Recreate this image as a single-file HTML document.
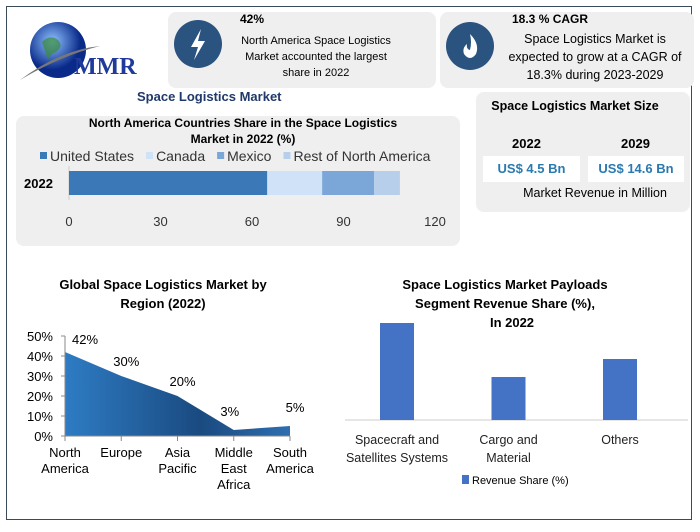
<!DOCTYPE html>
<html><head><meta charset="utf-8"><style>
body{margin:0;width:700px;height:532px;background:#fff;font-family:"Liberation Sans",sans-serif;position:relative;overflow:hidden}
.abs{position:absolute}
.card{position:absolute;background:#efefef;border-radius:8px}
.c{text-align:center}
</style></head><body>
<div class="abs" style="left:6px;top:6px;width:684px;height:512px;border:1.5px solid #3a4a5a"></div>

<div class="abs" style="left:18px;top:18px;width:130px;height:70px">
<svg width="130" height="70"><defs><radialGradient id="g" cx="40%" cy="35%"><stop offset="0" stop-color="#8fc2ff"/><stop offset="1" stop-color="#0a2a8a"/></radialGradient></defs>
<circle cx="40" cy="32" r="28" fill="url(#g)"/><path d="M24 24 q8-8 16-2 q6 6 -2 12 q-6 2 -8 8" fill="#3a8a3a" opacity=".7"/>
<path d="M2 62 q40-30 80-34 q-40 10 -80 34z" fill="#777"/>
<text x="56" y="56" font-family="Liberation Serif" font-weight="bold" font-size="24" fill="#1f3a9a">MMR</text></svg></div>

<div class="card" style="left:168px;top:12px;width:268px;height:76px"></div>
<div class="abs" style="left:174px;top:20px;width:48px;height:48px;border-radius:50%;background:#2b5380">
<svg width="48" height="48"><path d="M27 9 L17 27 H24 L20 40 L31 21 H24 Z" fill="#fff"/></svg></div>
<div class="abs" style="left:240px;top:12px;font-size:12px;font-weight:bold">42%</div>
<div class="abs c" style="left:232px;top:33px;width:168px;font-size:11px;line-height:16px">North America Space Logistics Market accounted the largest share in 2022</div>

<div class="card" style="left:440px;top:12px;width:254px;height:76px"></div>
<div class="abs" style="left:446px;top:22px;width:48px;height:48px;border-radius:50%;background:#2b5380">
<svg width="48" height="48"><path d="M24 12 q10 10 6 20 q-6 8 -12 0 q-2 -6 3 -10 q-1 5 3 6 q2 -8 0 -16z" fill="#fff"/></svg></div>
<div class="abs" style="left:512px;top:12px;font-size:12px;font-weight:bold">18.3 % CAGR</div>
<div class="abs c" style="left:500px;top:30px;width:190px;font-size:12.5px;line-height:18px">Space Logistics Market is expected to grow at a CAGR of 18.3% during 2023-2029</div>

<div class="abs" style="left:137px;top:89px;font-size:13px;font-weight:bold;color:#1f3a6a">Space Logistics Market</div>

<div class="card" style="left:476px;top:92px;width:214px;height:120px"></div>
<div class="abs c" style="left:476px;top:99px;width:198px;font-size:12.5px;font-weight:bold">Space Logistics Market Size</div>
<div class="abs" style="left:512px;top:136px;font-size:13px;font-weight:bold">2022</div>
<div class="abs" style="left:621px;top:136px;font-size:13px;font-weight:bold">2029</div>
<div class="abs c" style="left:483px;top:156px;width:97px;height:26px;background:#fff;line-height:26px;font-size:13px;font-weight:bold;color:#2a7ab0">US$ 4.5 Bn</div>
<div class="abs c" style="left:588px;top:156px;width:96px;height:26px;background:#fff;line-height:26px;font-size:13px;font-weight:bold;color:#2a7ab0">US$ 14.6 Bn</div>
<div class="abs c" style="left:500px;top:186px;width:190px;font-size:12.5px">Market Revenue in Million</div>

<div class="card" style="left:16px;top:116px;width:444px;height:130px"></div>
<svg class="abs" style="left:0;top:0" width="700" height="532" id="stackSvg">
<text x="243" y="127" text-anchor="middle" font-size="12" font-weight="bold" font-family="Liberation Sans">North America Countries Share in the Space Logistics</text>
<text x="243" y="143" text-anchor="middle" font-size="12" font-weight="bold" font-family="Liberation Sans">Market in 2022 (%)</text>
</svg>
<svg class="abs" style="left:0;top:0" width="700" height="532" id="area">
<defs><linearGradient id="ag" x1="0" x2="1"><stop offset="0" stop-color="#2e7cc4"/><stop offset=".6" stop-color="#1a4a80"/><stop offset="1" stop-color="#2e6fb0"/></linearGradient></defs>
<text x="163" y="289" text-anchor="middle" font-size="13" font-weight="bold" font-family="Liberation Sans">Global Space Logistics Market by</text>
<text x="163" y="308" text-anchor="middle" font-size="13" font-weight="bold" font-family="Liberation Sans">Region (2022)</text>
</svg>
<svg class="abs" style="left:0;top:0" width="700" height="532" id="bars">
<text x="505" y="289" text-anchor="middle" font-size="13" font-weight="bold" font-family="Liberation Sans">Space Logistics Market Payloads</text>
<text x="505" y="308" text-anchor="middle" font-size="13" font-weight="bold" font-family="Liberation Sans">Segment Revenue Share (%),</text>
<text x="512" y="327" text-anchor="middle" font-size="13" font-weight="bold" font-family="Liberation Sans">In 2022</text>
</svg>
<script>
const NS="http://www.w3.org/2000/svg";
function mk(p,t,a,txt){const e=document.createElementNS(NS,t);for(const k in a)e.setAttribute(k,a[k]);if(txt!==undefined)e.textContent=txt;p.appendChild(e);return e;}
// stacked bar
const stackSeries=["United States","Canada","Mexico","Rest of North America"];
const stackValues=[65,18,17,8.5];
const stackTicks=[0,30,60,90,120];
const stackColors=["#3a78b8","#cfe2f7","#7aa6d8","#b8cfec"];
const stk=document.getElementById('stackSvg');
const sx=v=>69+v*(435-69)/120;
let lx=40;
stackSeries.forEach((s,i)=>{
 const r=mk(stk,'rect',{x:lx,y:152,width:7,height:7,fill:stackColors[i]});
 
 
 const t=mk(stk,'text',{x:lx+10,y:161,'font-size':14,'font-family':'Liberation Sans',fill:'#333'},s);
 
 
 lx+=10+t.getComputedTextLength()+12;
});
mk(stk,'text',{x:24,y:188,'font-size':13,'font-weight':'bold','font-family':'Liberation Sans'},'2022');
mk(stk,'line',{x1:69,y1:166,x2:69,y2:200,stroke:'#ccc'});
let acc=0;
stackValues.forEach((v,i)=>{
 const r=mk(stk,'rect',{x:sx(acc),y:171,width:sx(acc+v)-sx(acc),height:24,fill:stackColors[i]});
 
 
 acc+=v;
});
stackTicks.forEach(t=>{const e=mk(stk,'text',{x:sx(t),y:226,'text-anchor':'middle','font-size':13,'font-family':'Liberation Sans',fill:'#333'},t);
 
 });

// area chart
const regions=[["North","America"],["Europe"],["Asia","Pacific"],["Middle","East","Africa"],["South","America"]];
const regionValues=[42,30,20,3,5];
const areaTicks=[0,10,20,30,40,50];
const area=document.getElementById('area');
const ax=i=>65+i*(290-65)/4, ay=v=>436-v*2;
let d=`M${ax(0)} ${ay(0)}`;regionValues.forEach((v,i)=>d+=` L${ax(i)} ${ay(v)}`);d+=` L${ax(4)} ${ay(0)} Z`;
const ap=mk(area,'path',{d,fill:'url(#ag)'});


mk(area,'line',{x1:65,y1:336,x2:65,y2:436,stroke:'#888'});
mk(area,'line',{x1:65,y1:436,x2:290,y2:436,stroke:'#888'});
areaTicks.forEach(t=>{mk(area,'line',{x1:61,y1:ay(t),x2:65,y2:ay(t),stroke:'#888'});
 const e=mk(area,'text',{x:53,y:ay(t)+5,'text-anchor':'end','font-size':13,'font-family':'Liberation Sans'},t+'%');
 
 });
regions.forEach((r,i)=>{mk(area,'line',{x1:ax(i),y1:436,x2:ax(i),y2:441,stroke:'#888'});
 r.forEach((w,j)=>{const e=mk(area,'text',{x:ax(i),y:457+j*16,'text-anchor':'middle','font-size':13,'font-family':'Liberation Sans'},w);
 
 });
 const off=i===0?[20,-8]:(i===3?[-4,-14]:[5,-10]);
 const l=mk(area,'text',{x:ax(i)+off[0],y:ay(regionValues[i])+off[1]+(i===4?-4:0),'text-anchor':'middle','font-size':13,'font-family':'Liberation Sans'},regionValues[i]+'%');
 
 });

// bar chart
const segCats=[["Spacecraft and","Satellites Systems"],["Cargo and","Material"],["Others"]];
const segValues=[48.5,21.5,30.5];
const bars=document.getElementById('bars');
const bx=i=>397+i*111.5, by=v=>420-v*2;
mk(bars,'line',{x1:345,y1:420,x2:688,y2:420,stroke:'#ccc'});
segValues.forEach((v,i)=>{
 const r=mk(bars,'rect',{x:bx(i)-17,y:by(v),width:34,height:420-by(v),fill:'#4472c4'});
 
 
 segCats[i].forEach((w,j)=>{const e=mk(bars,'text',{x:bx(i),y:444+j*18,'text-anchor':'middle','font-size':12.5,'font-family':'Liberation Sans',fill:'#222'},w);
 
 });
});
const lr=mk(bars,'rect',{x:462,y:475,width:7,height:9,fill:'#4472c4'});


const lt=mk(bars,'text',{x:472,y:484,'font-size':11,'font-family':'Liberation Sans'},'Revenue Share (%)');


</script>
</body></html>
